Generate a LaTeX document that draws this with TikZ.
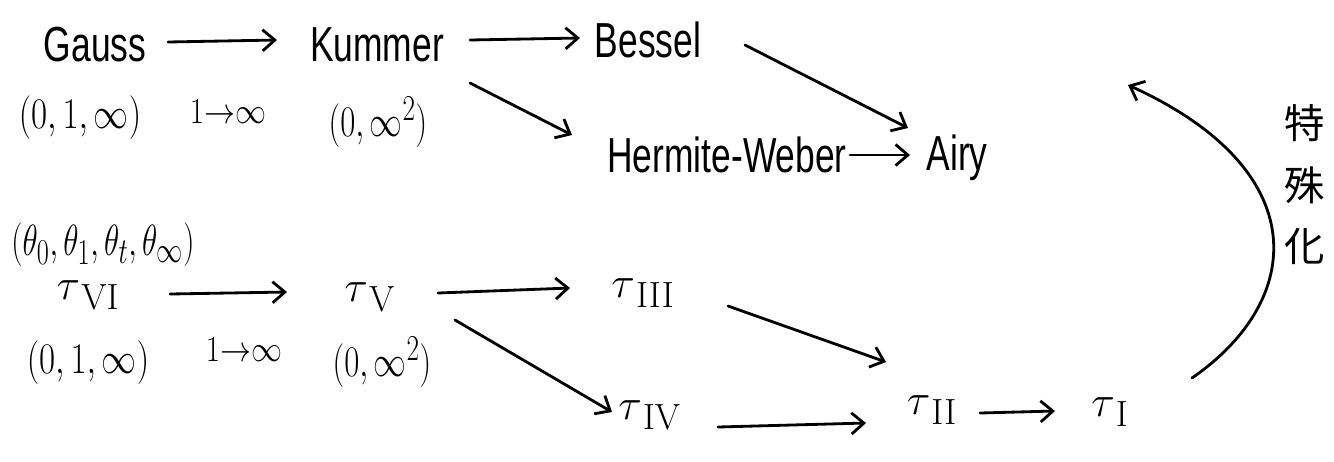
\documentclass[tikz,border=0pt]{standalone}
\usepackage[no-math]{fontspec}
\setmainfont{Liberation Sans}[FakeStretch=0.72]
\newfontfamily\cjk{Noto Sans CJK JP}
\usetikzlibrary{arrows.meta}
\tikzset{
 lbl/.style={inner sep=0pt, font=\fontsize{28}{30}\selectfont},
 mth/.style={inner sep=0pt, font=\fontsize{28}{30}\selectfont},
 tau/.style={inner sep=0pt, font=\fontsize{30}{32}\selectfont},
 small/.style={inner sep=0pt, font=\fontsize{22}{24}\selectfont},
 arr/.style={-{Straight Barb[length=7pt,width=12pt]}, line width=1.6pt, line cap=round},
}
\newcommand{\nar}[2][0.75]{\scalebox{#1}[1]{#2}}
\begin{document}
\begin{tikzpicture}[x=0.02cm,y=-0.02cm]
\useasboundingbox (0,0) rectangle (1334,461);
% top row
\node[lbl] (gauss) at (95,45) {Gauss};
\node[lbl] (kummer) at (377,45) {Kummer};
\node[lbl] (bessel) at (648,40) {Bessel};
\node[lbl] (hermite) at (727,155) {Hermite-Weber};
\node[lbl] (airy) at (957,158) {Airy};
\node[mth] (p1) at (80,118) {\nar[0.8]{$(0,1,\infty)$}};
\node[small] (c1) at (228,112) {\nar[0.85]{$1{\to}\infty$}};
\node[mth] (p2) at (378,122) {\nar{$(0,\infty^2)$}};
% bottom row
\node[mth] (theta) at (103,245) {\nar[0.72]{$(\theta_0,\theta_1,\theta_t,\theta_\infty)$}};
\node[tau] (t6) at (88,295) {$\tau_{\,\mathrm{VI}}$};
\node[tau] (t5) at (370,297) {$\tau_{\,\mathrm{V}}$};
\node[tau] (t3) at (643,293) {$\tau_{\,\mathrm{III}}$};
\node[tau] (t4) at (650,415) {$\tau_{\,\mathrm{IV}}$};
\node[tau] (t2) at (932,410) {$\tau_{\,\mathrm{II}}$};
\node[tau] (t1) at (1110,412) {$\tau_{\,\mathrm{I}}$};
\node[mth] (q1) at (88,363) {\nar[0.8]{$(0,1,\infty)$}};
\node[small] (c2) at (244,350) {\nar[0.85]{$1{\to}\infty$}};
\node[mth] (q2) at (382,362) {\nar{$(0,\infty^2)$}};
\node[inner sep=0pt, font=\cjk\fontsize{23}{35}\selectfont, align=center] (spec) at (1305,185) {特\\殊\\化};
% arrows top
\draw[arr] ([shift={(73,-3)}]gauss.center) -- ([shift={(-100,-5)}]kummer.center);
\draw[arr] ([shift={(93,-5)}]kummer.center) -- ([shift={(-68,-2)}]bessel.center);
\draw[arr] ([shift={(93,38)}]kummer.center) -- ([shift={(-155,-20)}]hermite.center);
\draw[arr] ([shift={(97,5)}]bessel.center) -- ([shift={(-49,-30)}]airy.center);
\draw[arr] ([shift={(123,0)}]hermite.center) -- ([shift={(-47,-3)}]airy.center);
% arrows bottom
\draw[arr] ([shift={(82,-1)}]t6.center) -- ([shift={(-83,-5)}]t5.center);
\draw[arr] ([shift={(68,-4)}]t5.center) -- ([shift={(-73,-5)}]t3.center);
\draw[arr] ([shift={(85,23)}]t5.center) -- ([shift={(-38,-3)}]t4.center);
\draw[arr] ([shift={(85,13)}]t3.center) -- ([shift={(-46,-48)}]t2.center);
\draw[arr] ([shift={(68,12)}]t4.center) -- ([shift={(-66,13)}]t2.center);
\draw[arr] ([shift={(48,3)}]t2.center) -- ([shift={(-55,-1)}]t1.center);
% specialization arc
\draw[arr] ([shift={(82,-34)}]t1.center) .. controls (1305,300) and (1315,170) .. ([shift={(171,-73)}]airy.center);
\end{tikzpicture}
\end{document}
